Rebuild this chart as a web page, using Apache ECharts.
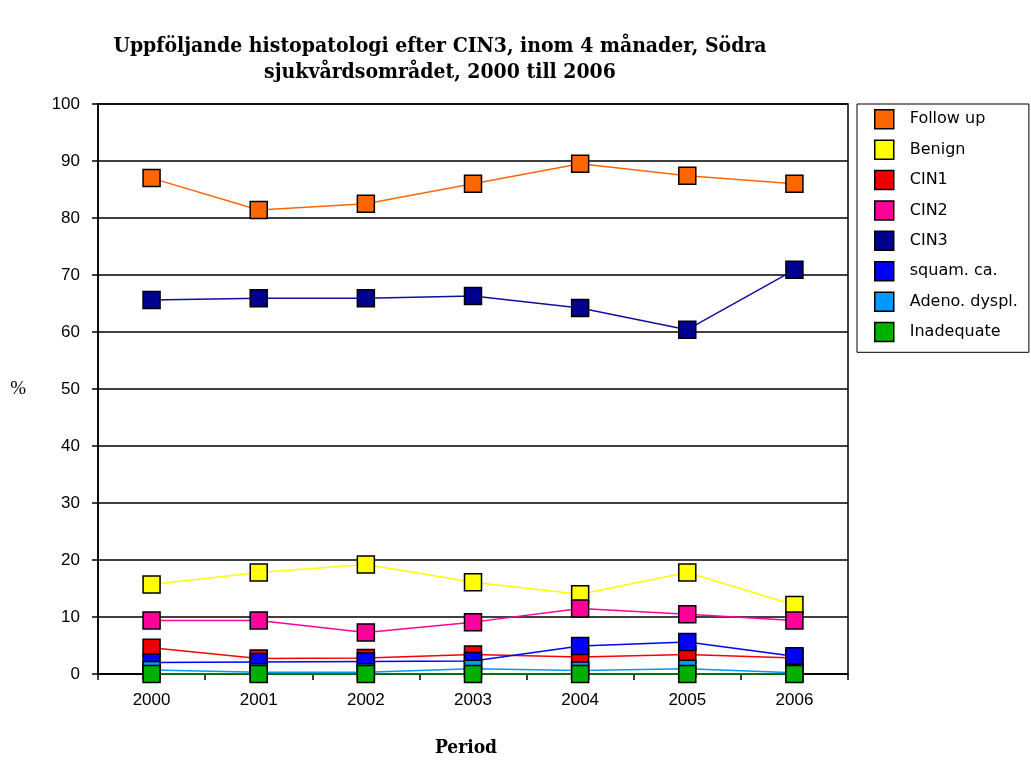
<!DOCTYPE html>
<html>
<head>
<meta charset="utf-8">
<script src="https://cdn.jsdelivr.net/npm/echarts@6/dist/echarts.min.js"></script>
<style>
  html, body { margin: 0; padding: 0; background: #fff; }
  #chart { width: 1031px; height: 760px; }
</style>
</head>
<body>
<div id="chart"></div>
<script>
// Period categories and percentages per follow-up outcome
const years = ['2000', '2001', '2002', '2003', '2004', '2005', '2006'];
const followUp   = [87.0, 81.4, 82.5, 86.0, 89.5, 87.4, 86.0];
const benign     = [15.7, 17.8, 19.2, 16.1, 14.0, 17.8, 12.1];
const cin1       = [4.6, 2.7, 2.8, 3.4, 3.0, 3.4, 2.8];
const cin2       = [9.4, 9.4, 7.3, 9.1, 11.5, 10.5, 9.4];
const cin3       = [65.6, 65.9, 65.9, 66.3, 64.2, 60.4, 70.9];
const squamCa    = [2.0, 2.1, 2.2, 2.3, 4.9, 5.6, 3.1];
const adenoDyspl = [0.7, 0.3, 0.3, 0.9, 0.6, 0.9, 0.2];
const inadequate = [0.0, 0.0, 0.0, 0.0, 0.0, 0.0, 0.0];
const yTicks = { min: 0, max: 100, interval: 10 };

const seriesDefs = [
  { name: 'Follow up',     data: followUp,   fill: '#FF6600', line: '#FF6600' },
  { name: 'Benign',        data: benign,     fill: '#FFFF00', line: '#FFFF00' },
  { name: 'CIN1',          data: cin1,       fill: '#EE0000', line: '#FF0000' },
  { name: 'CIN2',          data: cin2,       fill: '#FF0099', line: '#FF0099' },
  { name: 'CIN3',          data: cin3,       fill: '#000090', line: '#1010A0' },
  { name: 'squam. ca.',    data: squamCa,    fill: '#0000FF', line: '#0000FF' },
  { name: 'Adeno. dyspl.', data: adenoDyspl, fill: '#0099FF', line: '#0099FF' },
  { name: 'Inadequate',    data: inadequate, fill: '#00B000', line: '#00B000' }
];

const sansFont = '"Liberation Sans", Arial, sans-serif';
const serifFont = '"Liberation Serif", "Times New Roman", serif';

const chart = echarts.init(document.getElementById('chart'), null, { renderer: 'canvas' });

chart.setOption({
  backgroundColor: '#fff',
  animation: false,
  grid: {
    left: 98, right: 183, top: 104, bottom: 86,
    show: true, borderColor: '#000', borderWidth: 1.5, backgroundColor: 'transparent'
  },
  graphic: [
    {
      type: 'text', x: 440, y: 34,
      style: {
        text: 'Uppföljande histopatologi efter CIN3, inom 4 månader, Södra\nsjukvårdsområdet, 2000 till 2006',
        font: 'bold 21px "DejaVu Serif Condensed", "DejaVu Serif", serif',
        fill: '#000', textAlign: 'center', lineHeight: 26
      }
    },
    {
      type: 'text', x: 466, y: 739,
      style: {
        text: 'Period',
        font: 'bold 19px "DejaVu Serif Condensed", "DejaVu Serif", serif',
        fill: '#000', textAlign: 'center'
      }
    }
  ],
  legend: {
    orient: 'vertical',
    left: 857, top: 104,
    padding: [5, 11, 10, 17],
    borderColor: '#000', borderWidth: 1, backgroundColor: '#fff',
    icon: 'rect', itemWidth: 19, itemHeight: 19, itemGap: 9.9,
    itemStyle: { borderColor: '#000', borderWidth: 1.5 },
    textStyle: { fontFamily: '"DejaVu Sans", sans-serif', fontSize: 16, color: '#000', padding: [0, 0, 0, 11] },
    data: seriesDefs.map(s => s.name)
  },
  xAxis: {
    type: 'category',
    data: years,
    boundaryGap: true,
    axisLine: { lineStyle: { color: '#000', width: 1.5 } },
    axisTick: { show: true, length: 6, lineStyle: { color: '#000', width: 1.5 } },
    axisLabel: { fontFamily: sansFont, fontSize: 17, color: '#000', margin: 18 },
    splitLine: { show: false }
  },
  yAxis: {
    type: 'value',
    min: yTicks.min, max: yTicks.max, interval: yTicks.interval,
    name: '%',
    nameLocation: 'middle',
    nameRotate: 0,
    nameGap: 72,
    nameTextStyle: { fontFamily: serifFont, fontSize: 19, color: '#000' },
    axisLine: { show: true, lineStyle: { color: '#000', width: 1.5 } },
    axisTick: { show: true, length: 6, lineStyle: { color: '#000', width: 1.5 } },
    axisLabel: { fontFamily: sansFont, fontSize: 17, color: '#000', margin: 18 },
    splitLine: { show: true, lineStyle: { color: '#000', width: 1.5 } }
  },
  series: seriesDefs.map(s => ({
    name: s.name,
    type: 'line',
    data: s.data,
    symbol: 'rect',
    symbolSize: 17,
    showSymbol: true,
    lineStyle: { color: s.line, width: 1.5 },
    itemStyle: { color: s.fill, borderColor: '#000', borderWidth: 1.5 },
    emphasis: { disabled: true }
  }))
});
</script>
</body>
</html>
